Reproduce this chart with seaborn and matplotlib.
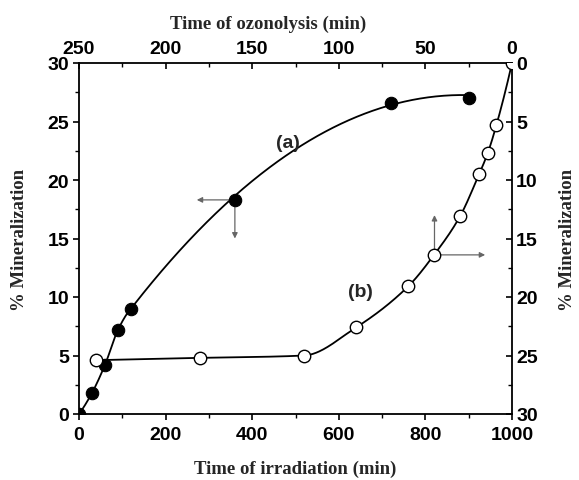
import numpy as np
import pandas as pd
import matplotlib
matplotlib.use("Agg")
import matplotlib.pyplot as plt
import seaborn as sns

# ---- data ----
# (a) irradiation time (bottom axis) vs mineralization (left axis)
irr_time = [0, 30, 60, 90, 120, 360, 720, 900]
irr_min = [0.0, 1.8, 4.2, 7.2, 9.0, 18.3, 26.6, 27.0]
# (b) ozonolysis time (top axis) vs mineralization (right axis, reversed)
ozo_time = [0, 9, 14, 19, 30, 45, 60, 90, 120, 180, 240]
ozo_min = [0.0, 5.3, 7.7, 9.5, 13.1, 16.4, 19.1, 22.6, 25.0, 25.2, 25.4]

bottom_ticks = [0, 200, 400, 600, 800, 1000]
top_ticks = [250, 200, 150, 100, 50, 0]
left_ticks = [0, 5, 10, 15, 20, 25, 30]


def pchip(x, y, xn):
    x = np.asarray(x, float); y = np.asarray(y, float)
    h = np.diff(x); d = np.diff(y) / h
    n = len(x); m = np.zeros(n)
    for k in range(1, n - 1):
        if d[k - 1] * d[k] > 0:
            w1 = 2 * h[k] + h[k - 1]; w2 = h[k] + 2 * h[k - 1]
            m[k] = (w1 + w2) / (w1 / d[k - 1] + w2 / d[k])
    def endslope(h0, h1, d0, d1):
        s = ((2 * h0 + h1) * d0 - h0 * d1) / (h0 + h1)
        if np.sign(s) != np.sign(d0):
            s = 0
        elif np.sign(d0) != np.sign(d1) and abs(s) > abs(3 * d0):
            s = 3 * d0
        return s
    m[0] = endslope(h[0], h[1], d[0], d[1])
    m[-1] = endslope(h[-1], h[-2], d[-1], d[-2])
    idx = np.clip(np.searchsorted(x, xn) - 1, 0, n - 2)
    t = (xn - x[idx]) / h[idx]
    h00 = 2 * t**3 - 3 * t**2 + 1; h10 = t**3 - 2 * t**2 + t
    h01 = -2 * t**3 + 3 * t**2; h11 = t**3 - t**2
    return h00 * y[idx] + h10 * h[idx] * m[idx] + h01 * y[idx + 1] + h11 * h[idx] * m[idx + 1]


sns.set_theme(style="ticks")
plt.rcParams['font.family'] = ['Liberation Sans', 'DejaVu Sans']

W, H = 579, 481
fig = plt.figure(figsize=(W / 100, H / 100), dpi=100)
pos = [79 / W, 1 - 415 / H, (512 - 79) / W, (415 - 64) / H]
ax = fig.add_axes(pos)
ax2 = fig.add_axes(pos, frameon=False)

df_a = pd.DataFrame({"t": irr_time, "m": irr_min})
df_b = pd.DataFrame({"t": ozo_time, "m": ozo_min})

# smooth curve (a): monotone spline over the early points, quadratic fit afterwards
ta = np.asarray(irr_time, float); ma = np.asarray(irr_min, float)
early = ta <= 120
x1 = np.linspace(0, 120, 120)
y1 = pchip(ta[early], ma[early], x1)
coef = np.polyfit(ta[ta >= 120], ma[ta >= 120], 2)
x2 = np.linspace(120, ta[-1], 300)
y2 = np.polyval(coef, x2)
y2 = y2 - (y2[0] - y1[-1])
xa = np.concatenate([x1, x2]); ya = np.concatenate([y1, y2])

xb = np.linspace(ozo_time[0], ozo_time[-1], 400)
yb = pchip(ozo_time, ozo_min, xb)

sns.lineplot(x=xa, y=ya, ax=ax, color="black", lw=1.3, sort=False)
sns.scatterplot(data=df_a, x="t", y="m", ax=ax, color="black", s=80,
                edgecolor="black", linewidth=0.8, zorder=5)
sns.lineplot(x=xb, y=yb, ax=ax2, color="black", lw=1.3, sort=False)
sns.scatterplot(data=df_b, x="t", y="m", ax=ax2, facecolor="white", s=80,
                edgecolor="black", linewidth=1.0, zorder=5)

ax.set_xlim(0, 1000); ax.set_ylim(0, 30)
ax2.set_xlim(250, 0); ax2.set_ylim(30, 0)

ax.set_xticks(bottom_ticks); ax.set_yticks(left_ticks)
ax.set_xticks(np.arange(100, 1000, 200), minor=True)
ax.set_yticks(np.arange(2.5, 30, 5), minor=True)
ax2.set_xticks(top_ticks)
ax2.set_xticks(np.arange(25, 250, 50), minor=True)
ax2.set_yticks(left_ticks)
ax2.set_yticks(np.arange(2.5, 30, 5), minor=True)

ax.xaxis.tick_bottom(); ax.yaxis.tick_left()
ax2.xaxis.tick_top(); ax2.yaxis.tick_right()

for a in (ax, ax2):
    for lab in a.get_xticklabels() + a.get_yticklabels():
        lab.set_fontsize(14); lab.set_fontweight("bold")
ax.tick_params(which="major", direction="out", length=4, width=1.2, pad=3, colors="black")
ax.tick_params(axis="x", which="major", pad=5)
ax.tick_params(which="minor", direction="out", length=3, width=1.0, colors="black")
ax2.tick_params(which="major", direction="in", length=4, width=1.2, pad=3, colors="black")
ax2.tick_params(axis="x", which="major", pad=4)
ax2.tick_params(which="minor", direction="in", length=3, width=1.0, colors="black")
for s in ax.spines.values():
    s.set_linewidth(1.3); s.set_color("black")
ax.set_xlabel(""); ax.set_ylabel(""); ax2.set_xlabel(""); ax2.set_ylabel("")

serif = dict(family=["Liberation Serif", "DejaVu Serif"], fontsize=13.5, fontweight="bold",
             ha="center", va="center")
fig.text(295 / W, 1 - 469 / H, "Time of irradiation (min)", **serif)
fig.text(268 / W, 1 - 24 / H, "Time of ozonolysis (min)", **serif)
fig.text(20 / W, 1 - 240 / H, "% Mineralization", rotation=90, **serif)
fig.text(568 / W, 1 - 240 / H, "% Mineralization", rotation=90, **serif)

ax.text(482, 23.2, "(a)", fontsize=14, fontweight="bold", ha="center", va="center")
ax.text(650, 10.5, "(b)", fontsize=14, fontweight="bold", ha="center", va="center")

arr = dict(arrowstyle="-|>", color="#666666", lw=0.9, mutation_scale=8, shrinkA=0, shrinkB=0)
ax.annotate("", xy=(272, 18.3), xytext=(360, 18.3), arrowprops=arr)
ax.annotate("", xy=(360, 15.0), xytext=(360, 18.3), arrowprops=arr)
ax.annotate("", xy=(821, 17.0), xytext=(821, 13.6), arrowprops=arr)
ax.annotate("", xy=(938, 13.6), xytext=(821, 13.6), arrowprops=arr)

fig.savefig("out.png", dpi=100)
